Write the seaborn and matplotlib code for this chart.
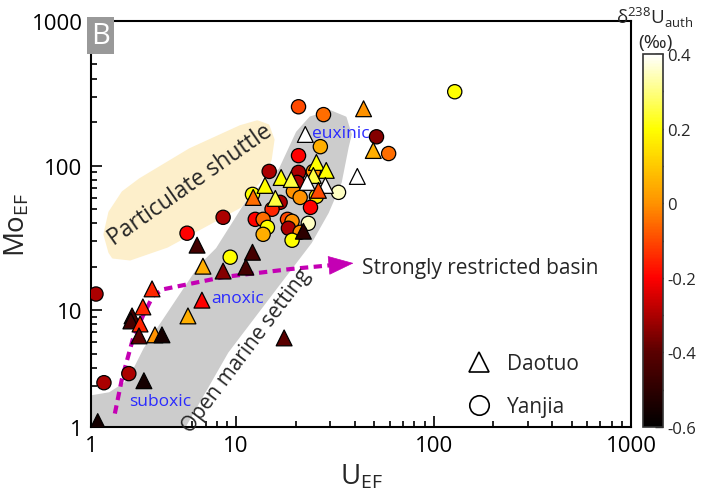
import matplotlib
matplotlib.use('agg')
from matplotlib import pyplot as plt
from matplotlib.colors import LinearSegmentedColormap, Normalize
from matplotlib.cm import ScalarMappable
from matplotlib.patches import Polygon
from matplotlib.lines import Line2D
from matplotlib.ticker import FixedLocator, NullFormatter
import numpy as np
import pandas as pd
import seaborn as sns

# Daotuo section (triangles)
daotuo_u = [44.2, 22.4, 49.5, 41.1, 25.5, 28.6, 24.6, 16.9, 19.0, 14.0, 22.9, 28.3, 26.1, 12.2, 15.8,
            21.9, 6.34, 12.1, 6.79, 11.2, 8.59, 3.75, 6.71, 3.37, 2.97, 2.93, 3.26, 3.22, 3.88, 4.21,
            5.70, 17.5, 3.41, 1.99]
daotuo_mo = [247, 164, 127, 84, 105, 92.5, 85.3, 82.6, 80, 72.8, 76.4, 72.8, 67.3, 60.1, 59.2,
             35.1, 28.1, 25.1, 20.1, 19.8, 18.6, 14.0, 11.7, 10.5, 9.1, 8.4, 8.0, 6.62, 6.73, 6.73,
             9.1, 6.41, 3.24, 1.69]
daotuo_d238 = [0.0, 0.4, 0.05, 0.4, 0.2, 0.2, 0.25, 0.2, 0.25, 0.2, 0.4, 0.4, -0.1, -0.05, 0.25,
               -0.5, -0.45, -0.45, 0.05, -0.45, -0.35, -0.15, -0.2, -0.15, -0.45, -0.45, -0.15, -0.4, 0.0, -0.55,
               0.05, -0.4, -0.55, -0.55]

# Yanjia section (circles)
yanjia_u = [20.7, 27.7, 26.7, 20.7, 14.7, 20.7, 24.6, 20.4, 19.5, 21.1, 25.5, 33.0, 12.1, 16.7, 15.2,
            23.8, 8.59, 12.5, 13.7, 18.2, 19.2, 14.4, 18.4, 23.2, 21.1, 13.7, 19.2, 5.64, 9.33, 1.95,
            2.86, 2.14, 128, 51.4, 59.2]
yanjia_mo = [255, 225, 135, 117, 91, 89.6, 91, 76.4, 66.2, 60.1, 61.1, 65.2, 63.1, 55.6, 49.8,
             51.3, 43.8, 42.4, 42.4, 42.4, 41.1, 37.3, 36.8, 39.8, 34.5, 33.4, 30.4, 34.0, 23.2, 12.9,
             3.63, 3.14, 324, 158, 121]
yanjia_d238 = [-0.1, -0.05, 0.05, -0.2, -0.3, -0.3, 0.0, -0.3, 0.0, 0.0, 0.15, 0.35, 0.2, -0.3, -0.15,
               -0.2, -0.3, -0.2, -0.05, -0.1, 0.0, 0.2, -0.3, 0.35, 0.0, 0.05, 0.2, -0.2, 0.2, -0.3,
               -0.3, -0.3, 0.2, -0.35, -0.05]

# background fields (U_EF, Mo_EF)
open_marine_u = [1.84, 2.29, 2.74, 3.07, 3.45, 6.56, 8.01, 11.8, 16.7, 20.4, 23.8, 30.0, 35.7, 37.9,
                 36.6, 33.7, 29.0, 23.8, 16.1, 9.0, 5.45, 1.84]
open_marine_mo = [2.51, 2.64, 3.09, 3.92, 5.38, 20.1, 26.4, 61, 93.8, 169, 214, 236, 214, 164,
                  135, 76.4, 47.4, 29.4, 14.6, 5.13, 1.55, 1.55]
shuttle_u = [2.29, 2.16, 2.29, 2.67, 3.26, 5.84, 10.5, 12.8, 14.5, 15.4, 14.9, 13.5, 10.5, 7.64, 4.47, 2.90, 2.38]
shuttle_mo = [25.1, 33.4, 47.4, 65.2, 80, 129, 186, 201, 189, 151, 110, 82.6, 52.1, 41.1, 27.6, 22.5, 23.2]
trend_u = [2.43, 2.64, 3.0, 3.37, 3.79, 4.26, 8.59, 18.8, 30.0]
trend_mo = [1.92, 3.34, 6.31, 9.1, 12.5, 13.9, 16.9, 19.2, 20.4]
trend_tip = (39.3, 21.1)

sns.set_style('white')
plt.rcParams['font.family'] = ['Open Sans', 'DejaVu Sans']
plt.rcParams['mathtext.fontset'] = 'custom'
plt.rcParams['mathtext.rm'] = 'Open Sans'

cmap = LinearSegmentedColormap.from_list('d238', [(0, '#000000'), (0.2, '#5a0000'), (0.4, '#ff0000'),
                                                  (0.6, '#ff9200'), (0.8, '#ffff00'), (1, '#ffffff')])
norm = Normalize(-0.6, 0.4)

fig = plt.figure(figsize=(7.01, 5.02), dpi=100)
ax = fig.add_axes([91/701, 74/502, 540/701, 406/502])
cax = fig.add_axes([643/701, 74/502, 20/701, 373/502])

ax.set_xscale('log')
ax.set_yscale('log')
ax.set_xlim(1.84, 1000)
ax.set_ylim(1.55, 1000)

ax.add_patch(Polygon(np.column_stack([open_marine_u, open_marine_mo]), closed=True,
                     fc='#cccccc', ec='#cccccc', lw=2, joinstyle='round', zorder=1))
ax.add_patch(Polygon(np.column_stack([shuttle_u, shuttle_mo]), closed=True,
                     fc='#fdefcb', ec='#fdefcb', lw=2, joinstyle='round', zorder=1))

mag = '#c400b4'
ax.plot(trend_u, trend_mo, ls=(0, (2, 1.3)), color=mag, lw=3, zorder=2)
ax.annotate('', xy=trend_tip, xytext=(trend_u[-1], trend_mo[-1]),
            arrowprops=dict(arrowstyle='-|>,head_length=0.85,head_width=0.32', color=mag,
                            lw=0.5, mutation_scale=20, shrinkA=0, shrinkB=0), zorder=2)

yj = pd.DataFrame({'U': yanjia_u, 'Mo': yanjia_mo, 'd238U': yanjia_d238})
dt = pd.DataFrame({'U': daotuo_u, 'Mo': daotuo_mo, 'd238U': daotuo_d238})
sns.scatterplot(data=yj, x='U', y='Mo', hue='d238U', palette=cmap, hue_norm=norm, marker='o',
                s=105, edgecolor='black', linewidth=0.9, legend=False, ax=ax, zorder=4)
sns.scatterplot(data=dt, x='U', y='Mo', hue='d238U', palette=cmap, hue_norm=norm, marker='^',
                s=130, edgecolor='black', linewidth=0.9, legend=False, ax=ax, zorder=4)

# annotations
ax.text(5.84, 74, 'Particulate shuttle', rotation=35, ha='center', va='center', fontsize=16.5, zorder=3)
ax.text(11.3, 5.3, 'Open marine setting', rotation=53, ha='center', va='center', fontsize=15, zorder=3)
ax.text(33.7, 169, 'euxinic', color='#2a2aff', ha='center', va='center', fontsize=12.5, zorder=3)
ax.text(10.2, 12.1, 'anoxic', color='#2a2aff', ha='center', va='center', fontsize=12.5, zorder=3)
ax.text(4.11, 2.36, 'suboxic', color='#2a2aff', ha='center', va='center', fontsize=12.5, zorder=3)
ax.text(43.6, 19.8, 'Strongly restricted basin', ha='left', va='center', fontsize=15, zorder=3)
ax.text(0.0, 1.0, 'B', transform=ax.transAxes, ha='left', va='top', color='white', fontsize=21,
        bbox=dict(boxstyle='square,pad=0.15', fc='#999999', ec='none'), zorder=5)

handles = [Line2D([], [], marker='^', ls='none', mfc='white', mec='black', ms=15, mew=1.2),
           Line2D([], [], marker='o', ls='none', mfc='white', mec='black', ms=14, mew=1.2)]
ax.legend(handles, ['Daotuo', 'Yanjia'], loc='lower left', bbox_to_anchor=(0.646, -0.022),
          frameon=False, fontsize=15, handletextpad=0.3, labelspacing=1.05)

# axes
ax.xaxis.set_major_locator(FixedLocator([1.84, 10, 100, 1000]))
ax.set_xticklabels(['1', '10', '100', '1000'])
ax.xaxis.set_minor_locator(FixedLocator([2, 3, 4, 5, 6, 7, 8, 9, 20, 30, 40, 50, 60, 70, 80, 90,
                                         200, 300, 400, 500, 600, 700, 800, 900]))
ax.xaxis.set_minor_formatter(NullFormatter())
ax.yaxis.set_major_locator(FixedLocator([1.55, 10, 100, 1000]))
ax.set_yticklabels(['1', '10', '100', '1000'])
ax.yaxis.set_minor_locator(FixedLocator([2, 3, 4, 5, 6, 7, 8, 9, 20, 30, 40, 50, 60, 70, 80, 90,
                                         200, 300, 400, 500, 600, 700, 800, 900]))
ax.yaxis.set_minor_formatter(NullFormatter())
ax.tick_params(which='both', direction='in', top=False, right=False, bottom=True, left=True,
               labelsize=16, width=1.2, colors='black')
ax.tick_params(which='major', length=8, pad=6)
ax.tick_params(which='minor', length=4)
for s in ax.spines.values():
    s.set_linewidth(1.5)
    s.set_color('black')
ax.set_xlabel('U$_{\\rm EF}$', fontsize=20, labelpad=4)
ax.set_ylabel('Mo$_{\\rm EF}$', fontsize=20, labelpad=0)

cb = fig.colorbar(ScalarMappable(norm=norm, cmap=cmap), cax=cax)
cb.set_ticks([-0.6, -0.4, -0.2, 0, 0.2, 0.4])
cb.set_ticklabels(['-0.6', '-0.4', '-0.2', '0', '0.2', '0.4'])
cb.ax.yaxis.set_minor_locator(FixedLocator([-0.5, -0.3, -0.1, 0.1, 0.3]))
cax.tick_params(which='both', direction='in', labelsize=12, width=1, pad=3)
cax.tick_params(which='major', length=6)
cax.tick_params(which='minor', length=4)
cb.outline.set_linewidth(1.2)
cb.outline.set_edgecolor('#333333')
fig.text(655/701, 1 - 18/502, 'δ$^{238}$U$_{\\rm auth}$', ha='center', va='center', fontsize=13.5)
fig.text(655/701, 1 - 43/502, '(‰)', ha='center', va='center', fontsize=14)

fig.savefig('out.png', dpi=100)
